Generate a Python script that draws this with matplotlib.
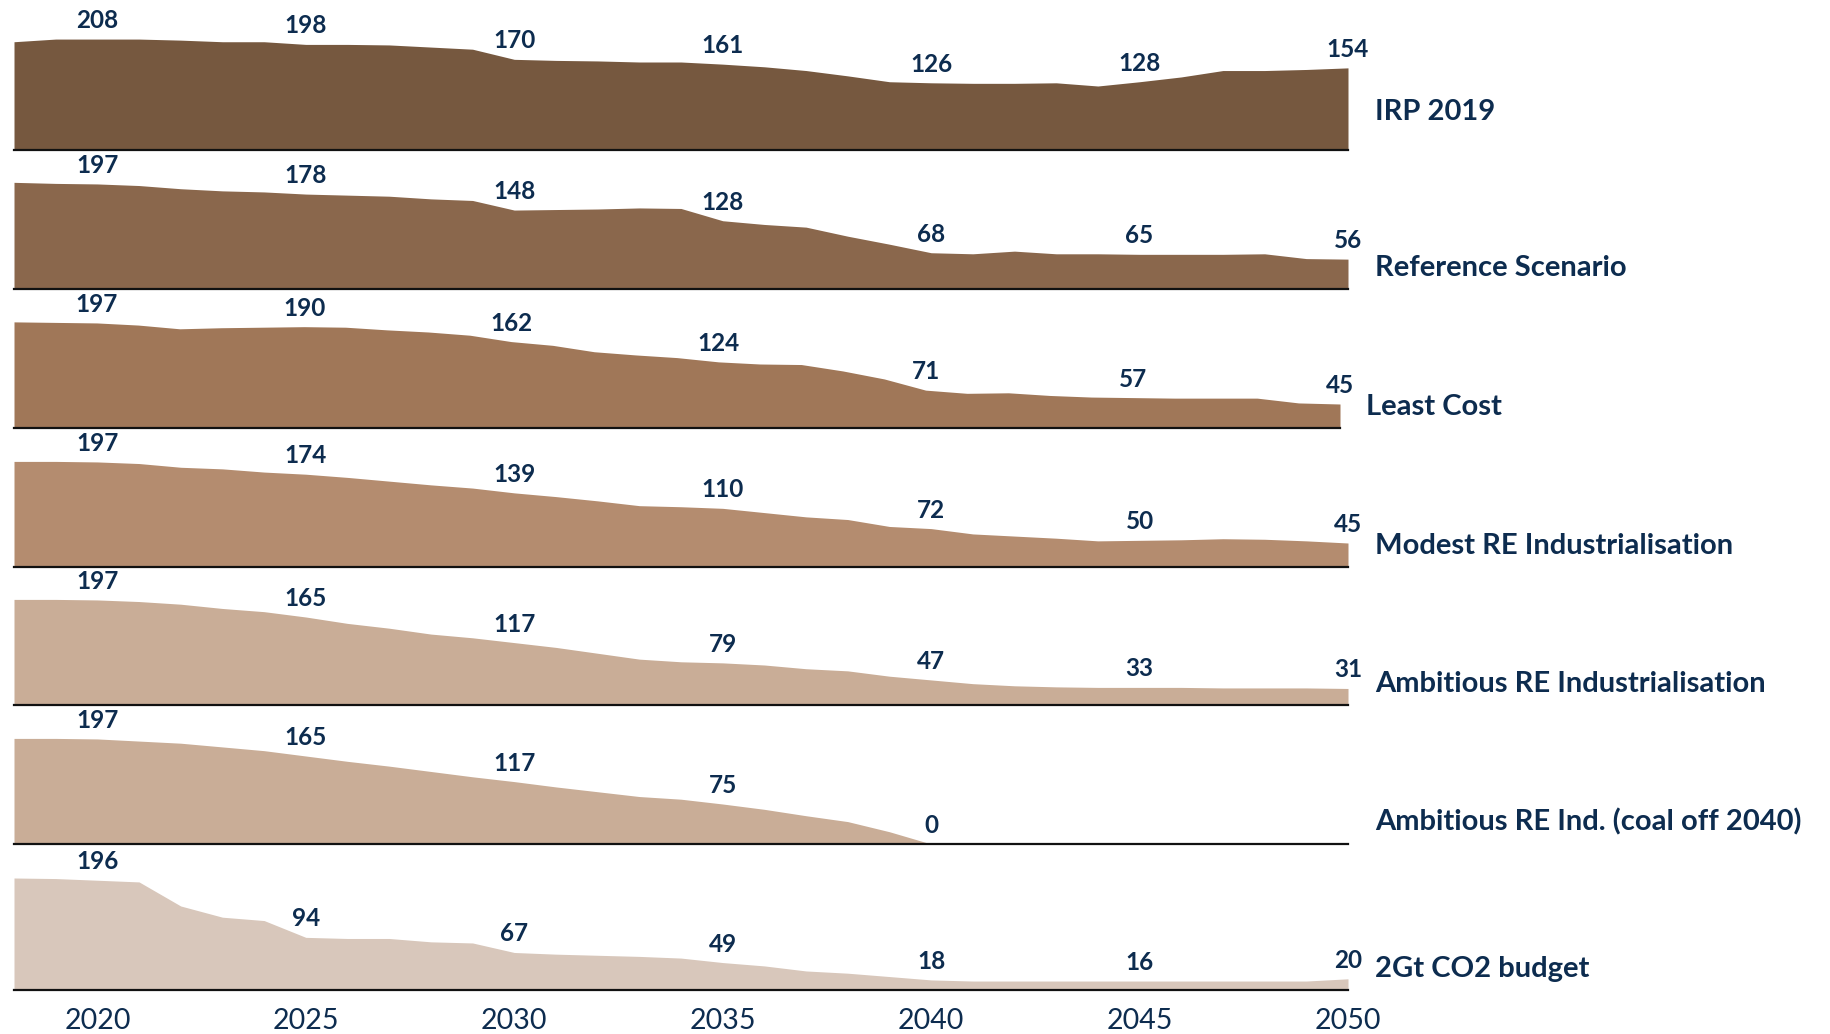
import matplotlib
matplotlib.use("Agg")
import matplotlib.pyplot as plt
import numpy as np

# ---- data: coal generation by scenario (TWh), 2018-2050 ----
years = list(range(2018, 2051))
label_years = [2020, 2025, 2030, 2035, 2040, 2045, 2050]

scenario_names = [
    "IRP 2019",
    "Reference Scenario",
    "Least Cost",
    "Modest RE Industrialisation",
    "Ambitious RE Industrialisation",
    "Ambitious RE Ind. (coal off 2040)",
    "2Gt CO2 budget",
]

irp_2019 = [203, 208, 208, 208, 206, 203, 203, 198, 198, 197, 193, 189, 170,
            168, 167, 165, 165, 161, 156, 149, 139, 128, 126, 125, 125, 126,
            120, 128, 137, 149, 149, 151, 154]
reference = [200, 198, 197, 194, 188, 184, 182, 178, 176, 174, 169, 166, 148,
             149, 150, 152, 151, 128, 121, 116, 99, 84, 68, 66, 71, 66,
             66, 65, 65, 65, 66, 57, 56]
least_cost = [199, 198, 197, 193, 186, 188, 189, 190, 189, 184, 180, 174, 162,
              155, 143, 137, 132, 124, 120, 119, 107, 92, 71, 65, 66, 61,
              58, 57, 56, 56, 56, 47, 45]
modest_re = [198, 198, 197, 194, 187, 184, 178, 174, 168, 161, 154, 148, 139,
             132, 124, 115, 113, 110, 102, 94, 89, 76, 72, 62, 58, 54,
             49, 50, 51, 53, 52, 49, 45]
ambitious_re = [198, 198, 197, 194, 189, 181, 175, 165, 153, 144, 133, 126, 117,
                108, 97, 86, 81, 79, 75, 68, 64, 54, 47, 40, 36, 34,
                33, 33, 33, 32, 32, 32, 31]
ambitious_coal_off = [198, 198, 197, 193, 189, 182, 175, 165, 155, 146, 136, 126, 117,
                      107, 98, 89, 84, 75, 65, 53, 42, 23, 0] + [np.nan] * 10
co2_budget = [200, 199, 196, 193, 150, 130, 124, 94, 92, 92, 86, 84, 67,
              64, 62, 60, 57, 49, 43, 34, 30, 24, 18, 16, 16, 16,
              16, 16, 16, 16, 16, 16, 20]

series = [irp_2019, reference, least_cost, modest_re, ambitious_re,
          ambitious_coal_off, co2_budget]

# ---- styling / layout (pixels on a 1830 x 1034 canvas) ----
W, H = 1830, 1034
NAVY = "#0D2C4F"
colors = ["#76583F", "#8A674C", "#A07758", "#B48C6F", "#C9AD97", "#C9AD97", "#D8C7BB"]
baselines = [150, 289, 428, 567, 705, 844, 990]
right_edges = [1348, 1348, 1340, 1348, 1348, 1348, 1348]
px_per_unit = [0.5333] * 6 + [0.56]
name_x = [1375, 1375, 1366, 1375, 1375, 1375, 1375]
name_baseline = [120, 276, 415, 554, 692, 830, 977]
LEFT = 14
PANEL_H = 138

plt.rcParams["font.family"] = ["Lato", "DejaVu Sans"]

fig = plt.figure(figsize=(W / 100, H / 100), dpi=100)
fig.patch.set_facecolor("white")

for i, vals in enumerate(series):
    base = baselines[i]
    ax = fig.add_axes([LEFT / W, (H - base) / H,
                       (right_edges[i] - LEFT) / W, PANEL_H / H])
    ax.patch.set_alpha(0)
    v = np.array(vals, dtype=float)
    ax.fill_between(years, v, 0, color=colors[i], lw=0)
    ax.set_xlim(2018, 2050)
    ax.set_ylim(0, PANEL_H / px_per_unit[i])
    for s in ("top", "left", "right"):
        ax.spines[s].set_visible(False)
    ax.spines["bottom"].set_color("#111111")
    ax.spines["bottom"].set_linewidth(1.6)
    ax.set_yticks([])

    for yr in label_years:
        val = v[yr - 2018]
        if np.isnan(val):
            continue
        ax.annotate(f"{int(round(val))}", xy=(yr, val), xytext=(0, 11),
                    textcoords="offset pixels", ha="center", va="baseline",
                    fontsize=17.5, fontweight="bold", color=NAVY,
                    annotation_clip=False)

    fig.text(name_x[i] / W, 1 - name_baseline[i] / H, scenario_names[i],
             ha="left", va="baseline", fontsize=21, fontweight="bold",
             color=NAVY)

    if i == len(series) - 1:
        ax.set_xticks(label_years)
        ax.set_xticklabels([str(y) for y in label_years], fontsize=20.5,
                           color=NAVY)
        ax.tick_params(axis="x", length=0, pad=13)
    else:
        ax.set_xticks([])

fig.savefig("out.png", dpi=100, facecolor="white")
